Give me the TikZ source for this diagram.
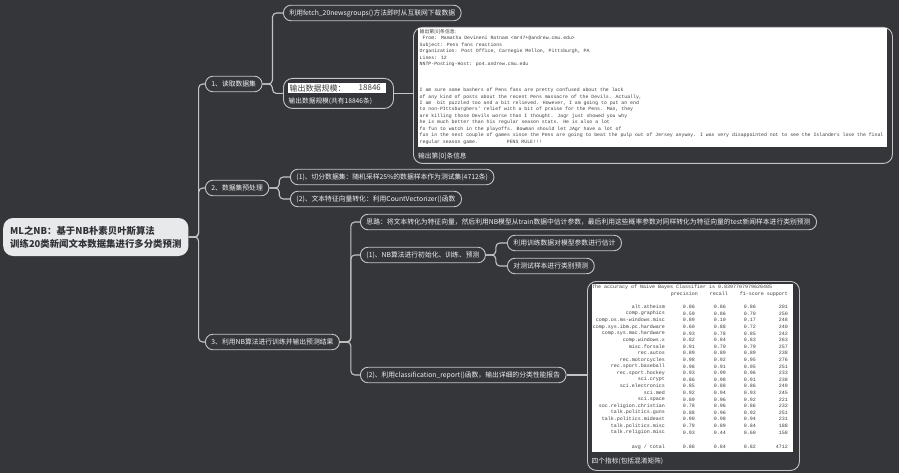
\documentclass[tikz,border=0pt]{standalone}
\usepackage{fontspec}
\newfontfamily\cjk{Noto Sans CJK SC}
\newfontfamily\codefont{Liberation Mono}
\usetikzlibrary{positioning}
\definecolor{mmBack}{RGB}{52,54,58}
\definecolor{mmRoot}{RGB}{232,233,235}
\definecolor{mmRootInk}{RGB}{48,50,54}
\definecolor{mmLine}{RGB}{196,196,196}
\definecolor{mmInk}{RGB}{242,242,242}
\definecolor{mmPaperInk}{RGB}{62,62,62}

\tikzset{
  mmroot/.style={fill=mmRoot, text=mmRootInk, rounded corners=10pt, align=left,
    font=\cjk\bfseries\fontsize{9.4}{13}\selectfont, inner xsep=7pt, minimum height=38pt},
  mmtopic/.style={draw=mmLine, line width=0.9pt, fill=mmBack, text=mmInk, rounded corners=7.5pt,
    font=\cjk\fontsize{6.8}{8}\selectfont, inner xsep=6pt, inner ysep=0pt, minimum height=15.5pt},
  mmframe/.style={draw=mmLine, line width=0.9pt, fill=mmBack, rounded corners=9pt, inner sep=0pt},
  mmpaper/.style={fill=white, inner sep=0pt},
  mmcaption/.style={text=mmInk, font=\cjk\fontsize{6.7}{8}\selectfont, inner sep=0pt},
  mmbig/.style={text=mmPaperInk, font=\cjk\fontsize{8}{9}\selectfont, inner sep=0pt},
  mmcode/.style={text=mmPaperInk, font=\codefont\fontsize{4.85}{6.45}\selectfont, align=left, inner sep=0pt},
  mmtable/.style={text=mmPaperInk, font=\codefont\fontsize{5}{6}\selectfont, inner sep=0pt},
  mmlink/.style={draw=mmLine, line width=1.1pt, rounded corners=4pt},
}

\begin{document}
\begin{tikzpicture}[x=1pt,y=-1pt]
  \fill[mmBack] (0,0) rectangle (899,473);
  \useasboundingbox (0,0) rectangle (899,473);

  % root
  \node[mmroot, anchor=west] (root) at (3,237) {ML之NB：基于NB朴素贝叶斯算法\\训练20类新闻文本数据集进行多分类预测};

  % main branches
  \node[mmtopic, anchor=west] (load) at (205,84) {1、读取数据集};
  \node[mmtopic, anchor=west] (prep) at (205,188) {2、数据集预处理};
  \node[mmtopic, anchor=west] (train) at (205,342) {3、利用NB算法进行训练并输出预测结果};

  % 1、读取数据集
  \node[mmtopic, anchor=west] (fetch) at (283,13) {利用fetch\_20newsgroups()方法即时从互联网下载数据};
  \node[mmframe, anchor=north west, minimum width=110pt, minimum height=30pt] (sizebox) at (283,78) {};
  \node[mmpaper, anchor=north west, minimum width=98pt, minimum height=10.6pt] (sizepaper) at (288,82.7) {};
  \node[mmbig, anchor=west] (sizelabel) at (289.5,88) {输出数据规模：};
  \node[mmbig, anchor=west] (sizenum) at (358.5,88) {18846};
  \node[mmcaption, anchor=west] (sizecap) at (288.5,101.5) {输出数据规模(共有18846条)};

  \node[mmframe, anchor=north west, minimum width=479pt, minimum height=136pt] (mailbox) at (413,27) {};
  \node[mmpaper, anchor=north west, minimum width=469pt, minimum height=119pt] (mailpaper) at (418,28) {};
  \node[mmcode, anchor=north west] (mailtext) at (419.5,29.2) {{\cjk 输出第[0]条信息:}\\
    \ From: Mamatha Devineni Ratnam <mr47+@andrew.cmu.edu>\\
    Subject: Pens fans reactions\\
    Organization: Post Office, Carnegie Mellon, Pittsburgh, PA\\
    Lines: 12\\
    NNTP-Posting-Host: po4.andrew.cmu.edu\\
    \mbox{}\\
    \mbox{}\\
    \mbox{}\\
    I am sure some bashers of Pens fans are pretty confused about the lack\\
    of any kind of posts about the recent Pens massacre of the Devils. Actually,\\
    I am\ \ bit puzzled too and a bit relieved. However, I am going to put an end\\
    to non-PIttsburghers' relief with a bit of praise for the Pens. Man, they\\
    are killing those Devils worse than I thought. Jagr just showed you why\\
    he is much better than his regular season stats. He is also a lot\\
    fo fun to watch in the playoffs. Bowman should let JAgr have a lot of\\
    fun in the next couple of games since the Pens are going to beat the pulp out of Jersey anyway. I was very disappointed not to see the Islanders lose the final\\
    regular season game.\hspace{29pt}PENS RULE!!!};
  \node[mmcaption, anchor=west] (mailcap) at (418,156.5) {输出第[0]条信息};

  % 2、数据集预处理
  \node[mmtopic, anchor=west] (split) at (290,177) {(1)、切分数据集：随机采样25\%的数据样本作为测试集(4712条)};
  \node[mmtopic, anchor=west] (vector) at (290,199) {(2)、文本特征向量转化：利用CountVectorizer()函数};

  % 3、训练与预测
  \node[mmtopic, anchor=west] (idea) at (360,222) {思路：将文本转化为特征向量，然后利用NB模型从train数据中估计参数，最后利用这些概率参数对同样转化为特征向量的test新闻样本进行类别预测};
  \node[mmtopic, anchor=west] (nbsteps) at (360,255) {(1)、NB算法进行初始化、训练、预测};
  \node[mmtopic, anchor=west] (estimate) at (507,243) {利用训练数据对模型参数进行估计};
  \node[mmtopic, anchor=west] (predict) at (507,266) {对测试样本进行类别预测};
  \node[mmtopic, anchor=west] (clsreport) at (360,375) {(2)、利用classification\_report()函数，输出详细的分类性能报告};

  \node[mmframe, anchor=north west, minimum width=212pt, minimum height=189pt] (reportbox) at (587,281) {};
  \node[mmpaper, anchor=north west, minimum width=201pt, minimum height=168pt] (reportpaper) at (592,284) {};
  \node[mmtable, anchor=west] (accuracy) at (592,287) {The accuracy of Naive Bayes Classifier is 0.8397707979626485};
  \node[mmtable, anchor=east] (hprec) at (698,294) {precision};
  \node[mmtable, anchor=east] (hrec) at (728,294) {recall};
  \node[mmtable, anchor=east] (hf1) at (764,294) {f1-score};
  \node[mmtable, anchor=east] (hsup) at (788,294) {support};
  \foreach \lab/\p/\r/\f/\s [count=\i] in {
      alt.atheism/0.86/0.86/0.86/201,
      comp.graphics/0.59/0.86/0.70/250,
      comp.os.ms-windows.misc/0.89/0.10/0.17/248,
      comp.sys.ibm.pc.hardware/0.60/0.88/0.72/240,
      comp.sys.mac.hardware/0.93/0.78/0.85/242,
      comp.windows.x/0.82/0.84/0.83/263,
      misc.forsale/0.91/0.70/0.79/257,
      rec.autos/0.89/0.89/0.89/238,
      rec.motorcycles/0.98/0.92/0.95/276,
      rec.sport.baseball/0.98/0.91/0.95/251,
      rec.sport.hockey/0.93/0.99/0.96/233,
      sci.crypt/0.86/0.98/0.91/238,
      sci.electronics/0.85/0.88/0.86/249,
      sci.med/0.92/0.94/0.93/245,
      sci.space/0.89/0.96/0.92/221,
      soc.religion.christian/0.78/0.96/0.86/232,
      talk.politics.guns/0.88/0.96/0.92/251,
      talk.politics.mideast/0.90/0.98/0.94/231,
      talk.politics.misc/0.79/0.89/0.84/188,
      talk.religion.misc/0.93/0.44/0.60/158} {
    \node[mmtable, anchor=east] (lab\i) at (665,{300.4+6.6*\i}) {\lab};
    \node[mmtable, anchor=east] (prec\i) at (695,{300.4+6.6*\i}) {\p};
    \node[mmtable, anchor=east] (rec\i) at (726,{300.4+6.6*\i}) {\r};
    \node[mmtable, anchor=east] (fone\i) at (756,{300.4+6.6*\i}) {\f};
    \node[mmtable, anchor=east] (sup\i) at (788,{300.4+6.6*\i}) {\s};
  }
  \node[mmtable, anchor=east] (labavg) at (665,447) {avg / total};
  \node[mmtable, anchor=east] (precavg) at (695,447) {0.86};
  \node[mmtable, anchor=east] (recavg) at (726,447) {0.84};
  \node[mmtable, anchor=east] (foneavg) at (756,447) {0.82};
  \node[mmtable, anchor=east] (supavg) at (788,447) {4712};
  \node[mmcaption, anchor=west] (reportcap) at (591.5,461) {四个指标(包括混淆矩阵)};

  % connectors
  \draw[mmlink] (root.east) -- ++(10,0) |- (load.west);
  \draw[mmlink] (root.east) -- ++(10,0) |- (prep.west);
  \draw[mmlink] (root.east) -- ++(10,0) |- (train.west);
  \draw[mmlink] (load.east) -- ++(10,0) |- (fetch.west);
  \draw[mmlink] (load.east) -- ++(10,0) |- (sizebox.west);
  \draw[mmlink] (sizebox.east) -- (sizebox.east -| mailbox.west);
  \draw[mmlink] (prep.east) -- ++(10,0) |- (split.west);
  \draw[mmlink] (prep.east) -- ++(10,0) |- (vector.west);
  \draw[mmlink] (train.east) -- ++(11,0) |- (idea.west);
  \draw[mmlink] (train.east) -- ++(11,0) |- (nbsteps.west);
  \draw[mmlink] (train.east) -- ++(11,0) |- (clsreport.west);
  \draw[mmlink] (nbsteps.east) -- ++(10,0) |- (estimate.west);
  \draw[mmlink] (nbsteps.east) -- ++(10,0) |- (predict.west);
  \draw[mmlink] (clsreport.east) -- (clsreport.east -| reportbox.west);
\end{tikzpicture}
\end{document}
